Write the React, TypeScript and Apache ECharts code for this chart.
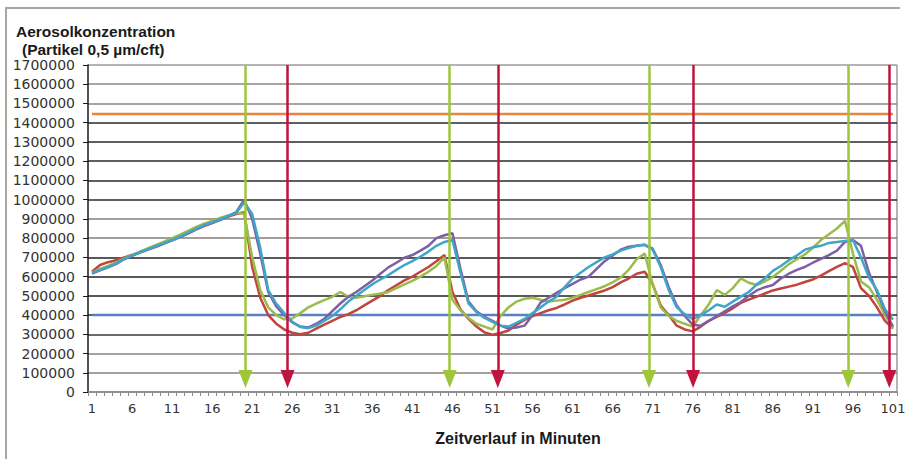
import React, { useEffect, useRef } from "react";
import * as echarts from "echarts";

// ---- data (values in thousands of particles / cft) ----
const minutes: string[] = Array.from({ length: 101 }, (_, i) => String(i + 1));
const SCALE = 1000;

const redSeries = [
  625, 660, 675, 685, 700, 712, 728, 742, 758, 775, 790, 808, 825, 845, 862, 878, 895, 912, 925, 935,
  650, 490, 400, 355, 325, 308, 300, 308, 330, 350, 370, 390, 405, 425, 450, 475, 500, 530, 555, 580,
  600, 625, 650, 680, 712, 520, 430, 380, 340, 310, 298, 307, 320, 350, 375, 395, 410, 425, 437, 455,
  475, 490, 502, 515, 528, 545, 570, 590, 615, 625, 560, 450, 400, 345, 325, 315, 340, 370, 390, 411,
  435, 463, 480, 496, 512, 528, 538, 548, 558, 572, 585, 605, 628, 650, 670, 650, 540, 500, 440, 370,
  330,
];

const greenSeries = [
  620, 640, 655, 672, 695, 712, 730, 748, 765, 782, 800, 818, 838, 858, 875, 890, 905, 918, 932, 925,
  700, 530, 440, 400, 378, 382, 410, 440, 460, 478, 495, 520, 495, 490, 498, 505, 512, 520, 540, 560,
  578, 600, 625, 655, 700, 480, 425, 385, 355, 340, 325, 395, 440, 470, 485, 490, 480, 470, 475, 480,
  490, 505, 520, 535, 550, 570, 595, 635, 690, 720, 560, 440, 395, 370, 355, 340, 400, 455, 530, 505,
  540, 590, 568, 556, 575, 598, 630, 665, 690, 715, 750, 790, 820, 850, 890, 720, 575, 545, 480, 400,
  330,
];

const purpleSeries = [
  615, 632, 648, 665, 690, 708, 725, 740, 755, 772, 788, 805, 825, 845, 865, 880, 895, 912, 935, 1000,
  900, 720, 520, 445, 400, 362, 340, 335, 355, 380, 420, 460, 495, 520, 550, 580, 615, 648, 672, 698,
  712, 735, 760, 800, 815, 825, 640, 470, 420, 390, 370, 345, 330, 335, 345, 400, 465, 490, 515, 540,
  562, 585, 600, 640, 680, 710, 740, 755, 760, 765, 745, 660, 545, 450, 395, 350, 345, 370, 395, 420,
  445, 468, 500, 528, 545, 556, 590, 615, 635, 650, 672, 692, 712, 735, 780, 790, 760, 620, 520, 420,
  340,
];

const aquaSeries = [
  620, 635, 650, 668, 692, 710, 726, 742, 758, 774, 790, 808, 828, 848, 868, 882, 898, 915, 930, 985,
  925, 750, 530, 460, 410, 365, 338, 332, 345, 370, 395, 430, 470, 500, 530, 560, 585, 608, 635, 660,
  680, 703, 730, 760, 780, 790, 620, 460, 415, 385, 365, 345, 340, 360, 380, 410, 440, 470, 495, 545,
  590, 620, 650, 675, 700, 715, 735, 748, 760, 765, 740, 650, 530, 440, 405, 380, 400, 425, 455, 443,
  470, 496, 520, 560, 590, 630, 655, 685, 710, 740, 752, 760, 775, 780, 785, 790, 700, 595, 530, 430,
  375,
];

const lowerLimit = 400000;
const upperLimit = 1445000;
const firstMinute = 1;
const lastMinute = 101;

// arrow positions (minutes) of the hand-drawn markers
const greenArrows = [20.16, 45.66, 70.54, 95.41];
const redArrows = [25.41, 51.66, 76.04, 100.54];
const ARROW_TOP = 1700000;
const ARROW_END = 68000;

const yMax = 1700000;
const yStep = 100000;

// split line colours from 0 up to 1 700 000
const gridColors = [
  "#8c8686", "#8a807c", "#8a807c", "#3a3a3a", "#2a2a2a", "#222222", "#222222", "#222222", "#877d7a",
  "#877d7a", "#2a2a2a", "#2a2a2a", "#2a2a2a", "#2a2a2a", "#2a2a2a", "#8f8683", "#8f8683", "#a09a98",
];

const COLORS = {
  red: "#c0453e",
  green: "#9bbb4a",
  purple: "#7d5fa6",
  aqua: "#3fa6c8",
  blue: "#5b80c2",
  orange: "#e8843c",
  arrowGreen: "#9dc63b",
  arrowRed: "#c1133d",
};

export default function App() {
  const ref = useRef<HTMLDivElement>(null);

  useEffect(() => {
    if (!ref.current) return;
    const chart = echarts.init(ref.current, undefined, { renderer: "svg" });

    const lineSeries = (name: string, data: number[], color: string) => ({
      name,
      type: "line",
      xAxisIndex: 0,
      yAxisIndex: 0,
      data: data.map((v) => v * SCALE),
      showSymbol: false,
      symbol: "none",
      lineStyle: { color, width: 2.5 },
      itemStyle: { color },
      z: 3,
    });

    const limitSeries = (name: string, value: number, color: string) => ({
      name,
      type: "line",
      xAxisIndex: 1,
      yAxisIndex: 0,
      data: [
        [firstMinute, value],
        [lastMinute, value],
      ],
      showSymbol: false,
      symbol: "none",
      lineStyle: { color, width: 2.5 },
      z: 2,
    });

    const arrowData = [
      ...greenArrows.map((x) => [
        { coord: [x, ARROW_TOP], lineStyle: { color: COLORS.arrowGreen }, itemStyle: { color: COLORS.arrowGreen } },
        { coord: [x, ARROW_END] },
      ]),
      ...redArrows.map((x) => [
        { coord: [x, ARROW_TOP], lineStyle: { color: COLORS.arrowRed }, itemStyle: { color: COLORS.arrowRed } },
        { coord: [x, ARROW_END] },
      ]),
    ];

    chart.setOption({
      animation: false,
      backgroundColor: "#ffffff",
      grid: { left: 88, right: 12, top: 65, bottom: 67, containLabel: false },
      xAxis: [
        {
          type: "category",
          data: minutes,
          boundaryGap: true,
          axisLine: { show: true, lineStyle: { color: "#8a8a8a", width: 1.5 } },
          axisTick: { show: true, interval: 0, length: 4, lineStyle: { color: "#8a8a8a" } },
          axisLabel: {
            interval: 4,
            margin: 10,
            color: "#333333",
            fontFamily: "DejaVu Sans",
            fontSize: 13,
          },
          splitLine: { show: false },
        },
        {
          type: "value",
          min: 0.5,
          max: 101.5,
          show: false,
          splitLine: { show: false },
        },
      ],
      yAxis: {
        type: "value",
        min: 0,
        max: yMax,
        interval: yStep,
        axisLine: { show: true, lineStyle: { color: "#1a1a1a", width: 1.5 } },
        axisTick: { show: true, inside: false, length: 5, lineStyle: { color: "#1a1a1a" } },
        axisLabel: {
          margin: 13,
          color: "#333333",
          fontFamily: "DejaVu Sans",
          fontSize: 14,
          formatter: (v: number) => String(v),
        },
        splitLine: { show: true, lineStyle: { color: gridColors, width: 1.5 } },
      },
      series: [
        limitSeries("Grenzwert unten", lowerLimit, COLORS.blue),
        limitSeries("Grenzwert oben", upperLimit, COLORS.orange),
        lineSeries("Messung 1", redSeries, COLORS.red),
        lineSeries("Messung 2", greenSeries, COLORS.green),
        lineSeries("Messung 3", purpleSeries, COLORS.purple),
        lineSeries("Messung 4", aquaSeries, COLORS.aqua),
        {
          name: "Marker",
          type: "line",
          xAxisIndex: 1,
          yAxisIndex: 0,
          data: [],
          z: 10,
          markLine: {
            silent: true,
            z: 10,
            symbol: ["none", "triangle"],
            symbolSize: [14, 18],
            label: { show: false },
            emphasis: { disabled: true },
            lineStyle: { type: "solid", width: 2.5 },
            data: arrowData,
          },
        },
      ],
      graphic: [
        {
          type: "polyline",
          shape: { points: [[6, 459], [6, 8], [900, 8]] },
          style: { stroke: "#a8a4a2", lineWidth: 2, fill: "none" },
          silent: true,
        },
        {
          type: "line",
          shape: { x1: 897, y1: 65, x2: 897, y2: 392 },
          style: { stroke: "#a09a98", lineWidth: 1.5 },
          silent: true,
        },
        {
          type: "text",
          x: 16,
          y: 31.5,
          style: {
            text: "Aerosolkonzentration",
            fontFamily: "Liberation Sans",
            fontWeight: "bold",
            fontSize: 15.5,
            fill: "#1a1a1a",
            textVerticalAlign: "middle",
          },
        },
        {
          type: "text",
          x: 22,
          y: 49.5,
          style: {
            text: "(Partikel 0,5 µm/cft)",
            fontFamily: "Liberation Sans",
            fontWeight: "bold",
            fontSize: 15.5,
            fill: "#1a1a1a",
            textVerticalAlign: "middle",
          },
        },
        {
          type: "text",
          x: 518,
          y: 438,
          style: {
            text: "Zeitverlauf in Minuten",
            fontFamily: "Liberation Sans",
            fontWeight: "bold",
            fontSize: 16,
            fill: "#1a1a1a",
            textAlign: "center",
            textVerticalAlign: "middle",
          },
        },
      ],
    });

    return () => chart.dispose();
  }, []);

  return (
    <div
      ref={ref}
      style={{ position: "absolute", left: 0, top: 0, width: 909, height: 459, background: "#fff" }}
    />
  );
}
